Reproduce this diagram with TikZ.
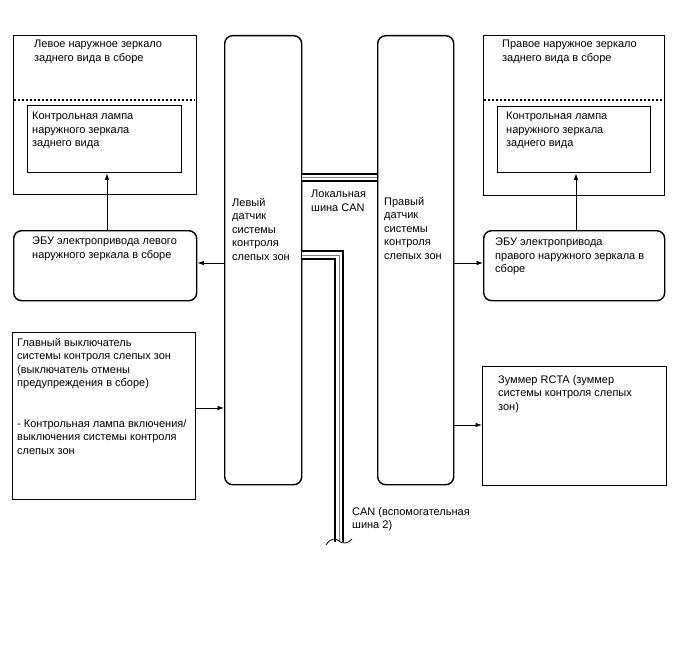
\documentclass[tikz,border=0pt]{standalone}
\usepackage{fontspec}
\setmainfont{Liberation Sans}
\usetikzlibrary{arrows.meta}
\tikzset{
  box/.style={draw=black,line width=1.4pt,anchor=north west,inner sep=0pt,fill=none},
  rbox/.style={box,rounded corners=8pt},
  txt/.style={anchor=north west,inner sep=0pt,align=left,font=\fontsize{11pt}{13.5pt}\selectfont},
  arr/.style={line width=0.8pt,-{Latex[length=6.5pt,width=4.5pt]}},
  dashsep/.style={line width=1.3pt,dash pattern=on 2.2pt off 1.8pt},
  busblack/.style={line width=#1,draw=black,line join=miter},
  buswhite/.style={line width=#1,draw=white,line join=miter},
  busgray/.style={line width=0.8pt,draw=gray,line join=miter}
}
\begin{document}
\begin{tikzpicture}[x=1pt,y=-1pt]
\useasboundingbox[fill=white] (0,0) rectangle (688,658);

% left mirror
\node[box,minimum width=183pt,minimum height=159pt] (lmir) at (13,35) {};
\node[box,minimum width=154pt,minimum height=67pt] (llamp) at (27,105) {};
\draw[dashsep] (14,100) coordinate (ld1) -- (195,100) coordinate (ld2);
\node[txt] (lmirt) at (34,40) {Левое наружное зеркало\\заднего вида в сборе};
\node[txt] (llampt) at (32,112) {Контрольная лампа\\наружного зеркала\\заднего вида};

% right mirror
\node[box,minimum width=181pt,minimum height=160pt] (rmir) at (483,35) {};
\node[box,minimum width=153pt,minimum height=66pt] (rlamp) at (497,106) {};
\draw[dashsep] (484,100) coordinate (rd1) -- (663,100) coordinate (rd2);
\node[txt] (rmirt) at (502,40) {Правое наружное зеркало\\заднего вида в сборе};
\node[txt] (rlampt) at (506,112) {Контрольная лампа\\наружного зеркала\\заднего вида};

% sensors
\node[rbox,minimum width=77pt,minimum height=449pt] (lsens) at (224,35) {};
\node[rbox,minimum width=76pt,minimum height=449pt] (rsens) at (377,35) {};
\node[txt] (lsenst) at (232,198) {Левый\\датчик\\системы\\контроля\\слепых зон};
\node[txt] (rsenst) at (384,197) {Правый\\датчик\\системы\\контроля\\слепых зон};

% ECUs
\node[rbox,minimum width=183pt,minimum height=70pt] (lecu) at (13,230) {};
\node[rbox,minimum width=181pt,minimum height=70pt] (recu) at (483,230) {};
\node[txt] (lecut) at (32,237) {ЭБУ электропривода левого\\наружного зеркала в сборе};
\node[txt] (recut) at (495,238) {ЭБУ электропривода\\правого наружного зеркала в\\сборе};

% main switch
\node[box,minimum width=183pt,minimum height=167pt] (msw) at (12,332) {};
\node[txt] (mswt) at (17,338) {Главный выключатель\\системы контроля слепых зон\\(выключатель отмены\\предупреждения в сборе)\\[27pt]- Контрольная лампа включения/\\выключения системы контроля\\слепых зон};

% buzzer
\node[box,minimum width=184pt,minimum height=119pt] (buz) at (482,366) {};
\node[txt] (buzt) at (498,375) {Зуммер RCTA (зуммер\\системы контроля слепых\\зон)};

% arrows
\draw[arr] (lecu.north -| 107,0) -- (llamp.south -| 107,0);
\draw[arr] (recu.north -| 576,0) -- (rlamp.south -| 576,0);
\draw[arr] (lsens.west |- 0,263) -- (lecu.east |- 0,263);
\draw[arr] (rsens.east |- 0,263) -- (recu.west |- 0,263);
\draw[arr] (msw.east |- 0,408) -- (lsens.west |- 0,408);
\draw[arr] (rsens.east |- 0,425) -- (buz.west |- 0,425);

% local CAN
\coordinate (lc1) at (lsens.east |- 0,177.5);
\coordinate (lc2) at (rsens.west |- 0,177.5);
\draw[busblack=8.6pt] (lc1) -- (lc2);
\draw[buswhite=5pt] (lc1) -- (lc2);
\draw[busgray] (lc1) -- (lc2);
\node[txt] (lcant) at (311,190) {Локальная\\шина CAN};

% CAN sub bus 2
\coordinate (cb1) at (lsens.east |- 0,255);
\coordinate (cb2) at (339,255);
\coordinate (cb3) at (339,542);
\draw[busblack=9.6pt] (cb1) -- (cb2) -- (cb3);
\draw[buswhite=5.6pt] (cb1) -- (cb2) -- (cb3);
\draw[busgray] (cb1) -- (cb2) -- (cb3);
\fill[white] (330,542) rectangle (350,550);
\draw[line width=0.8pt] (326,545) .. controls (330,538) and (336,538) .. (339,541) .. controls (342,544) and (348,544) .. (352,539);
\node[txt] (cant) at (352,507) {CAN (вспомогательная\\шина 2)};
\end{tikzpicture}
\end{document}
